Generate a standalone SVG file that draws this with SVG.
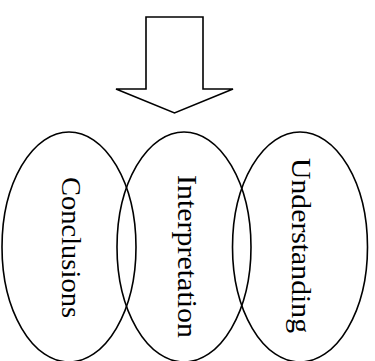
<svg xmlns="http://www.w3.org/2000/svg" width="375" height="361" viewBox="0 0 375 361">
  <style>
    .shape { fill: none; stroke: #000; stroke-width: 1.6; stroke-linejoin: miter; }
    .label { font-family: "Liberation Serif", "DejaVu Serif", serif; font-size: 27px; fill: #000; }
  </style>
  <rect width="375" height="361" fill="#fff"/>

  <!-- Block arrow pointing down -->
  <g id="arrow">
    <polygon class="shape" points="146,17 203,17 203,89 233,89 174.5,113 116,89 146,89"/>
  </g>

  <g id="connectors"></g>

  <!-- Overlapping ellipses with vertical labels -->
  <g id="conclusions">
    <ellipse class="shape" cx="69" cy="247" rx="67" ry="115"/>
    <text class="label" transform="translate(62,177) rotate(90)" textLength="141" lengthAdjust="spacingAndGlyphs">Conclusions</text>
  </g>
  <g id="interpretation">
    <ellipse class="shape" cx="184" cy="247" rx="67" ry="115"/>
    <text class="label" transform="translate(178,175) rotate(90)" textLength="163" lengthAdjust="spacingAndGlyphs">Interpretation</text>
  </g>
  <g id="understanding">
    <ellipse class="shape" cx="300" cy="247" rx="67.5" ry="115"/>
    <text class="label" transform="translate(292,158) rotate(90)" textLength="175" lengthAdjust="spacingAndGlyphs">Understanding</text>
  </g>
</svg>
